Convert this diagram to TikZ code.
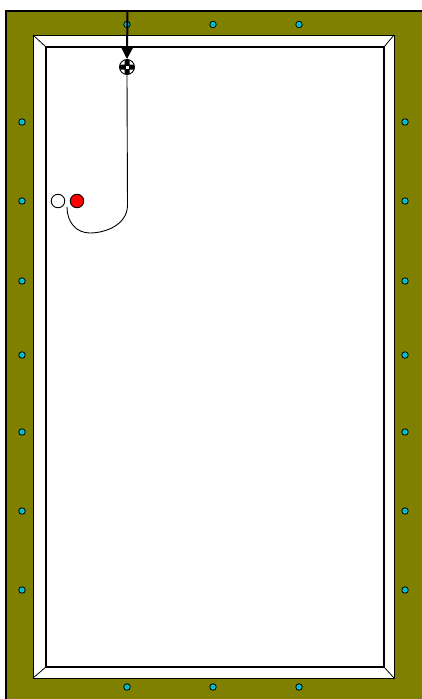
\documentclass[tikz,border=0pt]{standalone}
\usetikzlibrary{arrows.meta}
\definecolor{frame}{HTML}{808000}
\definecolor{screw}{HTML}{00C8D8}

\begin{document}
\begin{tikzpicture}[
  x=1pt, y=-1pt,
  ball/.style={draw, circle, minimum size=13.5pt, inner sep=0pt, line width=.9pt, fill=white},
  screw/.style={draw, circle, minimum size=6.5pt, inner sep=0pt, line width=.8pt, fill=screw},
  target/.style={ball, minimum size=15pt},
  flow/.style={-{Triangle[length=13pt,width=13pt]}, line width=2pt},
]
\useasboundingbox (0,0) rectangle (422,699);

% ---------------- frame
\filldraw[fill=frame, line width=2pt] (6,11) rectangle (424,701);
\filldraw[fill=white, line width=1pt] (33,35) rectangle (394,678);
\draw[line width=.8pt] (33,35) -- (46,47) (394,35) -- (384,47) (33,678) -- (46,667) (394,678) -- (384,667);
\draw[line width=1.6pt] (46,47) rectangle (384,667);

% ---------------- screws
\foreach \x in {127,213,299} {
  \node[screw] (t\x) at (\x,24.5) {};
  \node[screw] (b\x) at (\x,687) {};
  \fill[black!70] (\x,24.5) circle (.7) (\x,687) circle (.7);
}
\foreach \y in {122,201,281,355,432,511,590} {
  \node[screw] (l\y) at (22,\y) {};
  \node[screw] (r\y) at (405,\y) {};
  \fill[black!70] (22,\y) circle (.7) (405,\y) circle (.7);
}

% ---------------- balls
\node[target] (aim) at (127,67) {};
\fill (120,64.5) rectangle (134,69.5) (124.5,60) rectangle (129.5,74);
\fill[white] (125.5,65.5) rectangle (128.5,68.5);
\node[ball] (cue) at (58,201) {};
\node[ball, fill=red] (hit) at (77,201) {};

% ---------------- flows
\coordinate (start) at (127.5,10);
\coordinate (turn) at (127.5,205);
\coordinate (stop) at (67,207);
\draw[flow] (start) -- (aim.north);
\draw[line width=.9pt] (aim.south) -- (turn) .. controls (127.5,225) and (105,233) .. (90,233) .. controls (76,233) and (67,222) .. (stop);
\end{tikzpicture}
\end{document}
